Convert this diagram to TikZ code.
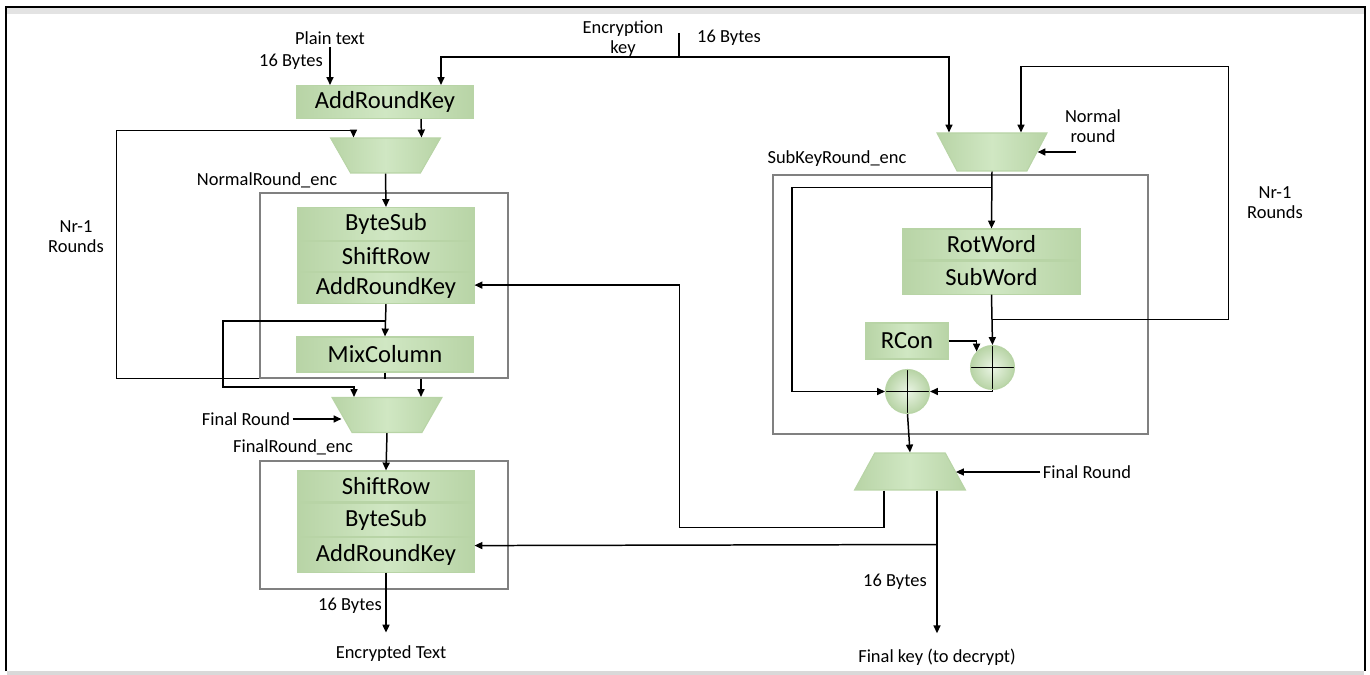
\documentclass[tikz,border=0pt]{standalone}
\usepackage{fontspec}
\setmainfont{Carlito}
\usetikzlibrary{arrows.meta,positioning,shapes.geometric,calc}
\definecolor{bvgreen}{RGB}{208,231,195}
\definecolor{bvedge}{RGB}{184,212,166}
\definecolor{frgray}{RGB}{128,128,128}
\newcommand\blkfont{\fontsize{14}{16}\selectfont}
\newcommand\labfont{\fontsize{10.5}{11.3}\selectfont}

\begin{document}
\begin{tikzpicture}[x=0.02cm,y=-0.02cm,>={Triangle[length=4.5pt,width=4pt]},line width=0.85pt,
 blk/.style={left color=bvedge,right color=bvedge,middle color=bvgreen,draw=bvedge,line width=0.6pt,minimum width=3.52cm,inner sep=0pt,font=\blkfont},
 mux/.style={trapezium,trapezium stretches=true,trapezium left angle=106,trapezium right angle=106,minimum width=2.2cm,minimum height=0.7cm,left color=bvedge,right color=bvedge,middle color=bvgreen,draw=bvedge,line width=0.6pt,inner sep=3pt},
 demux/.style={mux,trapezium left angle=74,trapezium right angle=74},
 xorc/.style={circle,minimum size=0.88cm,inner sep=0pt,inner color=bvgreen!45!white,outer color=bvedge,draw=bvedge,line width=0.6pt,
  path picture={\draw[black,line width=0.85pt] (path picture bounding box.north) -- (path picture bounding box.south)
   (path picture bounding box.west) -- (path picture bounding box.east);}},
 frame/.style={draw=frgray,line width=0.7pt,inner sep=0pt},
 lab/.style={font=\labfont,align=center,inner sep=1pt}]
\useasboundingbox (0,0) rectangle (1370,675);
\fill[gray!22] (7,8) rectangle (1364,14);
\fill[gray!30] (7,671) rectangle (1364,675);
\draw[line width=1.2pt] (6,671) -- (6,7) -- (1365,7) -- (1365,671);

\node[frame,minimum width=4.96cm,minimum height=3.7cm] (nrb) at (384,285.5) {};
\node[frame,minimum width=4.96cm,minimum height=2.56cm] (frb) at (384,525) {};
\node[frame,minimum width=7.5cm,minimum height=5.18cm] (skb) at (960.5,304.5) {};

\node[lab] (ptxt) at (330,38) {Plain text};
\node[lab] (b16a) at (291,62) {16 Bytes};
\node[lab] (ekey) at (623,39) {Encryption\\key};
\node[lab] (b16b) at (729,38) {16 Bytes};
\node[lab] (nre) at (267,180) {NormalRound\_enc};
\node[lab] (nr1) at (76,237) {Nr-1\\Rounds};
\node[lab] (fr1) at (246,419) {Final Round};
\node[lab] (fre) at (293,447) {FinalRound\_enc};
\node[lab] (b16c) at (350,606) {16 Bytes};
\node[lab] (enc) at (391,654) {Encrypted Text};
\node[lab] (nrnd) at (1093,126) {Normal\\round};
\node[lab] (skre) at (837,159) {SubKeyRound\_enc};
\node[lab] (nr2) at (1275,203) {Nr-1\\Rounds};
\node[lab] (fr2) at (1087,472) {Final Round};
\node[lab] (b16d) at (895,582) {16 Bytes};
\node[lab] (fkey) at (937,657) {Final key (to decrypt)};

\node[blk,minimum height=0.66cm] (ark0) at (385,102) {AddRoundKey};
\node[mux] (mux1) at (385.5,155.5) {};
\node[blk,minimum height=0.66cm] (bs1) at (386,224) {ByteSub};
\node[blk,minimum height=0.6cm,below=0pt of bs1] (sr1) {ShiftRow};
\node[blk,minimum height=0.62cm,below=0pt of sr1] (ark1) {AddRoundKey};
\node[blk,minimum height=0.7cm] (mix) at (385,354.5) {MixColumn};
\node[mux] (mux2) at (387,415) {};
\node[blk,minimum height=0.62cm] (sr2) at (386,486.5) {ShiftRow};
\node[blk,minimum height=0.66cm,below=0pt of sr2] (bs2) {ByteSub};
\node[blk,minimum height=0.7cm,below=0pt of bs2] (ark2) {AddRoundKey};

\node[mux,minimum height=0.76cm] (muxr1) at (992,152) {};
\node[blk,minimum width=3.54cm,minimum height=0.62cm] (rot) at (991.5,244.5) {RotWord};
\node[blk,minimum width=3.54cm,minimum height=0.66cm,below=0pt of rot] (sub) {SubWord};
\node[blk,minimum width=1.64cm,minimum height=0.72cm] (rcon) at (907,341) {RCon};
\node[xorc] (x1) at (992.5,367.5) {};
\node[xorc] (x2) at (907.5,391.5) {};
\node[demux,minimum width=2.22cm,minimum height=0.74cm] (muxr2) at (910,471.5) {};

\coordinate (ktop) at (679,33);
\coordinate (kj) at (679,57);
\coordinate (fk) at ($(muxr2.south)+(27,0)$);
\draw (ktop) -- (kj);
\draw[->] (kj) -| ($(ark0.north)+(56,0)$);
\draw[->] (kj) -| ($(muxr1.north)+(-43,0)$);
\draw[->] (ptxt.south) -- (ptxt.south |- ark0.north);
\draw[->] ($(ark0.south)+(36,0)$) -- ($(mux1.north)+(36,0)$);
\draw[->] (nrb.south west) -- ++(-143,0) |- ($(mux1.north)+(-32,-7)$) -- ($(mux1.north)+(-32,0)$);
\draw[->] (mux1.south) -- (bs1.north);
\draw[->] (ark1.south) -- (mix.north);
\draw[->] ($(ark1.south)+(0,17)$) -- ++(-163,0) |- ($(mux2.north)+(-33,-10)$) -- ($(mux2.north)+(-33,0)$);
\draw (mix.south) -- (mix.south |- nrb.south);
\draw[->] ($(nrb.south)+(37,0)$) -- ($(mux2.north)+(34,0)$);
\draw[->] (fr1.east) -- (fr1.east -| mux2.west);
\draw[->] (mux2.south) -- (sr2.north);
\draw[->,shorten >=0.22cm] (ark2.south) -- (ark2.south |- enc.north);

\draw[->] ($(sub.south)+(0,25)$) -- ++(237,0) |- ($(muxr1.north)+(29,-66)$) -- ($(muxr1.north)+(29,0)$);
\draw[->] ($(muxr1.east)+(38,0)$) -- (muxr1.east);
\draw[->] (muxr1.south) -- (rot.north);
\draw[->] ($(muxr1.south)+(0,16)$) -- ++(-200,0) |- (x2.west);
\draw[->] (sub.south) -- (x1.north);
\draw[->] (rcon.east) -| (x1.north west);
\draw[->] (x1.south) |- (x2.east);
\draw[->] (x2.south) -- (muxr2.north);
\draw[->] (fr2.west) -- (fr2.west -| muxr2.east);
\draw[->] ($(muxr2.south)+(-26,0)$) -- ++(0,37) -| ($(ark1.east)+(205,-3)$) -- ($(ark1.east)+(0,-3)$);
\draw[->,shorten >=0.26cm] (fk) -- (fk |- fkey.north);
\draw[->] ($(fk)+(0,54)$) -- ($(ark2.east)+(0,-9)$);
\end{tikzpicture}
\end{document}
